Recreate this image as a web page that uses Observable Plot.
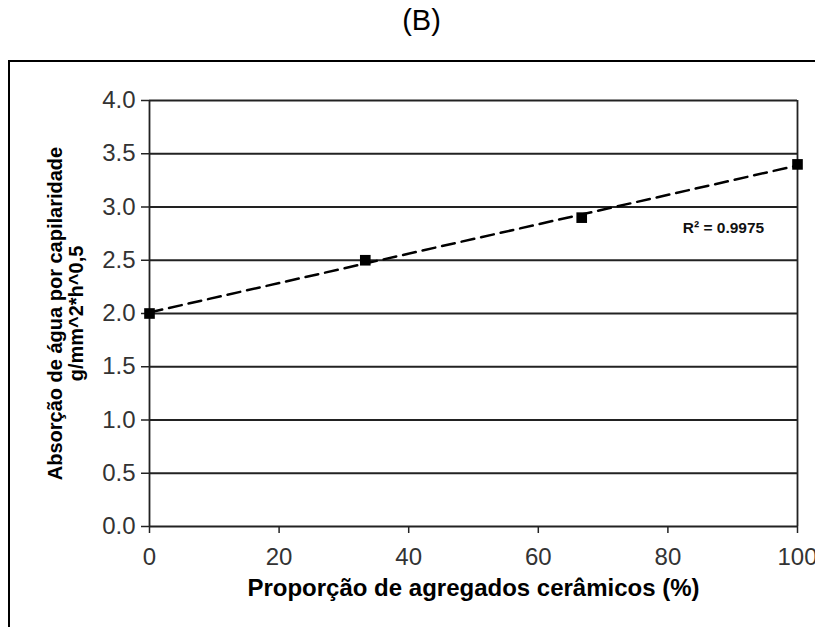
<!DOCTYPE html>
<html>
<head>
<meta charset="utf-8">
<script src="https://cdn.jsdelivr.net/npm/d3@7"></script>
<script src="https://cdn.jsdelivr.net/npm/@observablehq/plot@0.6"></script>
<style>
  html, body { margin: 0; padding: 0; background: #fff; }
  body { width: 815px; height: 627px; overflow: hidden; position: relative; font-family: "Liberation Sans", Arial, sans-serif; }
  #title { position: absolute; left: 0; top: 4px; width: 843px; text-align: center; font-size: 29px; color: #000; }
  #box { position: absolute; left: 8px; top: 60px; width: 900px; height: 700px; border: 2px solid #000; box-sizing: border-box; }
  #chart { position: absolute; left: 0; top: 0; }
</style>
</head>
<body>
<div id="title">(B)</div>
<div id="box"></div>
<div id="chart"></div>
<script>
// Ceramic aggregate proportion (%) and capillary water absorption
const proportion = [0, 33.3, 66.7, 100];
const absorption = [2.0, 2.5, 2.9, 3.4];
const yTicks = [0, 0.5, 1.0, 1.5, 2.0, 2.5, 3.0, 3.5, 4.0];
const xTicks = [0, 20, 40, 60, 80, 100];
const r2Label = "R² = 0.9975";
const xLabel = "Proporção de agregados cerâmicos (%)";
const yLabel = "Absorção de água por capilaridade\ng/mm^2*h^0,5";

const data = proportion.map((p, i) => ({p, a: absorption[i]}));
const lineColor = "#222";

const chart = Plot.plot({
  width: 815,
  height: 627,
  marginLeft: 149,
  marginRight: 18,
  marginTop: 100,
  marginBottom: 101,
  style: {fontFamily: "'Liberation Sans', Arial, sans-serif", background: "transparent", overflow: "visible"},
  x: {domain: [0, 100]},
  y: {domain: [0, 4]},
  marks: [
    Plot.ruleY(yTicks, {stroke: lineColor, strokeWidth: 1.8}),
    Plot.ruleX([0, 100], {stroke: lineColor, strokeWidth: 1.8}),
    Plot.axisY({ticks: yTicks, tickFormat: d => d.toFixed(1), tickSize: 8, tickPadding: 6,
                fontSize: 24, fill: "#333", stroke: lineColor, strokeWidth: 1.5, label: null}),
    Plot.axisX({ticks: xTicks, tickFormat: d => String(d), tickSize: 7, tickPadding: 14,
                fontSize: 24, fill: "#333", stroke: lineColor, strokeWidth: 1.5, label: null}),
    Plot.linearRegressionY(data, {x: "p", y: "a", ci: 0, stroke: "#000", strokeWidth: 2.5,
                                  strokeDasharray: "13,7"}),
    Plot.dot(data, {x: "p", y: "a", symbol: "square", r: 6, fill: "#000", stroke: "none"}),
    Plot.text([r2Label], {x: 82.3, y: 2.8, text: d => d, textAnchor: "start", fontSize: 15.5,
                          fontWeight: "bold", fill: "#111"}),
    Plot.text([xLabel], {frameAnchor: "bottom", dy: 69, text: d => d, fontSize: 24,
                         fontWeight: "bold", fill: "#000"}),
    Plot.text([yLabel], {frameAnchor: "left", dx: -84, rotate: -90, text: d => d, fontSize: 20,
                         fontWeight: "bold", fill: "#000", lineHeight: 1.05, textAnchor: "middle"})
  ]
});
document.getElementById("chart").appendChild(chart);
</script>
</body>
</html>
